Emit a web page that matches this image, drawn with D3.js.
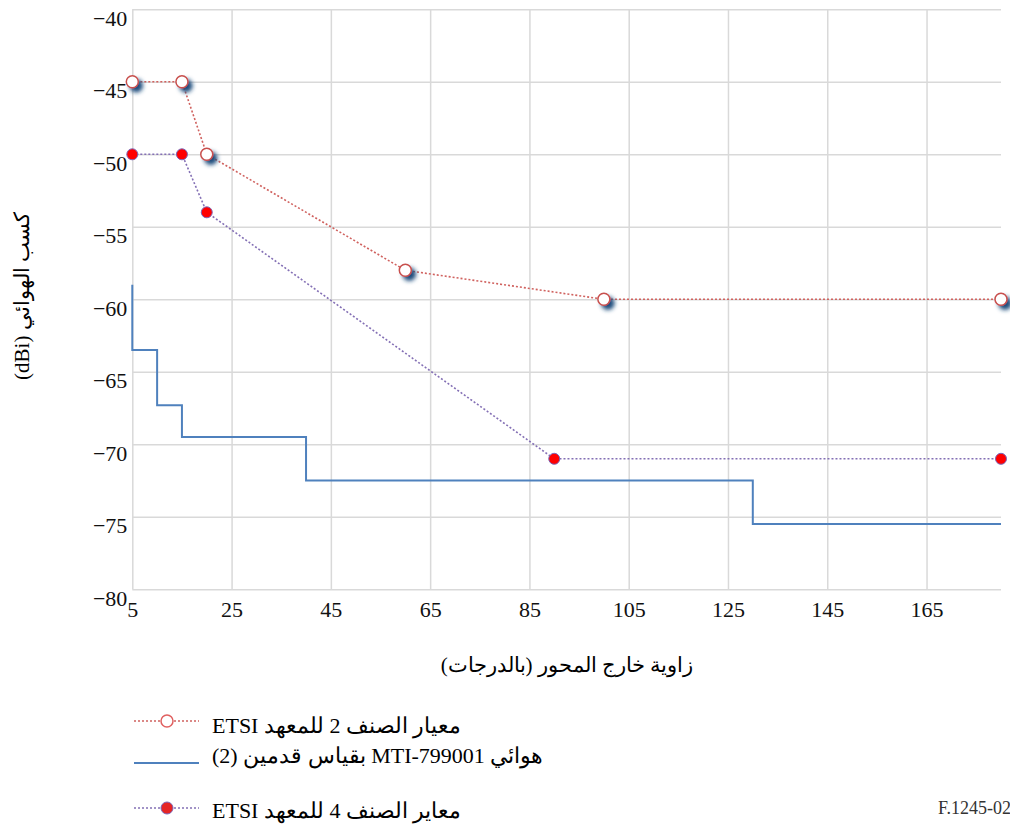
<!DOCTYPE html>
<meta charset="utf-8">
<style>
body { margin: 0; background: #fff; }
svg { font-family: "Liberation Serif", "DejaVu Serif", serif; }
.grid line { stroke: #d9d9d9; stroke-width: 1.5; }
.grid path { display: none; }
.tick text { font-size: 22px; fill: #111; font-family: "Liberation Serif", serif; }
</style>
<svg></svg>
<script src="https://cdn.jsdelivr.net/npm/d3@7"></script>
<script>
// data
var xTicks = [5, 25, 45, 65, 85, 105, 125, 145, 165];
var yTicks = [-40, -45, -50, -55, -60, -65, -70, -75, -80];

var class2Angles = [5, 15, 20, 60, 100, 180];
var class2Gain   = [-45, -45, -50, -58, -60, -60];

var class4Angles = [5, 15, 20, 90, 180];
var class4Gain   = [-50, -50, -54, -71, -71];

var mtiAngles = [5, 5, 10, 10, 15, 15, 40, 40, 130, 130, 180];
var mtiGain   = [-59, -63.5, -63.5, -67.3, -67.3, -69.5, -69.5, -72.5, -72.5, -75.5, -75.5];

var legendLabels = [
  "معيار الصنف 2 للمعهد ETSI",
  "هوائي MTI-799001 بقياس قدمين (2)",
  "معاير الصنف 4 للمعهد ETSI"
];

var W = 1010, H = 828;
var svg = d3.select("svg").attr("width", W).attr("height", H);

var x = d3.scaleLinear().domain([5, 180]).range([132.3, 1001]);
var y = d3.scaleLinear().domain([-80, -40]).range([589.3, 9.3]);

var defs = svg.append("defs");
defs.append("filter").attr("id", "shadow")
    .attr("x", "-100%").attr("y", "-100%").attr("width", "300%").attr("height", "300%")
  .append("feDropShadow")
    .attr("dx", 4).attr("dy", 4).attr("stdDeviation", 2)
    .attr("flood-color", "#1d4c7c").attr("flood-opacity", 1);

// grid + tick labels
svg.append("g").attr("class", "grid")
    .attr("transform", "translate(" + x.range()[0] + ",0)")
    .call(d3.axisLeft(y).tickValues(yTicks).tickSize(-(x.range()[1] - x.range()[0])).tickPadding(5))
    .attr("font-family", null).attr("font-size", null)
  .selectAll("text").attr("dy", "16px");

svg.append("g").attr("class", "grid")
    .attr("transform", "translate(0," + y(-80) + ")")
    .call(d3.axisBottom(x).tickValues(xTicks).tickSize(-(y(-80) - y(-40))).tickPadding(12))
    .attr("font-family", null).attr("font-size", null);

var line = d3.line().x(function(d) { return x(d[0]); }).y(function(d) { return y(d[1]); });

var c2 = d3.zip(class2Angles, class2Gain);
var c4 = d3.zip(class4Angles, class4Gain);
var mti = d3.zip(mtiAngles, mtiGain);

svg.append("path").datum(mti).attr("d", line)
    .attr("fill", "none").attr("stroke", "#4f81bd").attr("stroke-width", 2);

svg.append("path").datum(c2).attr("d", line)
    .attr("fill", "none").attr("stroke", "#d0625f").attr("stroke-width", 1.6)
    .attr("stroke-dasharray", "2,2");

svg.append("path").datum(c4).attr("d", line)
    .attr("fill", "none").attr("stroke", "#8470b5").attr("stroke-width", 1.6)
    .attr("stroke-dasharray", "2,2");

svg.selectAll(".m2").data(c2).enter().append("circle")
    .attr("class", "m2")
    .attr("cx", function(d) { return x(d[0]); })
    .attr("cy", function(d) { return y(d[1]); })
    .attr("r", 6)
    .attr("fill", "#fff").attr("stroke", "#c8504d").attr("stroke-width", 1.5)
    .attr("filter", "url(#shadow)");

svg.selectAll(".m4").data(c4).enter().append("circle")
    .attr("class", "m4")
    .attr("cx", function(d) { return x(d[0]); })
    .attr("cy", function(d) { return y(d[1]); })
    .attr("r", 5.5)
    .attr("fill", "#ff0000").attr("stroke", "#7a66b8").attr("stroke-width", 1);

// axis titles
svg.append("text")
    .attr("x", 567).attr("y", 672)
    .attr("text-anchor", "middle").attr("direction", "rtl")
    .style("font-size", "21px")
    .text("زاوية خارج المحور (بالدرجات)");

svg.append("text")
    .attr("transform", "translate(29,296) rotate(-90)")
    .attr("text-anchor", "middle").attr("direction", "rtl")
    .style("font-size", "21px")
    .text("كسب الهوائي (dBi)");

// legend
var legY = [721, 763, 808];
var legBase = [733, 763, 818];

svg.append("line").attr("x1", 134).attr("x2", 199).attr("y1", legY[0]).attr("y2", legY[0])
    .attr("stroke", "#d0625f").attr("stroke-width", 1.6).attr("stroke-dasharray", "2,2");
svg.append("circle").attr("cx", 167).attr("cy", legY[0]).attr("r", 6)
    .attr("fill", "#fff").attr("stroke", "#e06060").attr("stroke-width", 1.5);

svg.append("line").attr("x1", 134).attr("x2", 199).attr("y1", legY[1]).attr("y2", legY[1])
    .attr("stroke", "#4f81bd").attr("stroke-width", 2);

svg.append("line").attr("x1", 134).attr("x2", 199).attr("y1", legY[2]).attr("y2", legY[2])
    .attr("stroke", "#8470b5").attr("stroke-width", 1.6).attr("stroke-dasharray", "2,2");
svg.append("circle").attr("cx", 167).attr("cy", legY[2]).attr("r", 6)
    .attr("fill", "#e52525").attr("stroke", "#7a66b8").attr("stroke-width", 1);

svg.selectAll(".leg").data(legendLabels).enter().append("text")
    .attr("class", "leg")
    .attr("x", 212)
    .attr("y", function(d, i) { return legBase[i]; })
    .attr("direction", "rtl").attr("text-anchor", "end")
    .style("font-size", "22px")
    .text(function(d) { return d; });

svg.append("text")
    .attr("x", 938).attr("y", 814)
    .style("font-size", "18px").attr("fill", "#333")
    .text("F.1245-02");
</script>
